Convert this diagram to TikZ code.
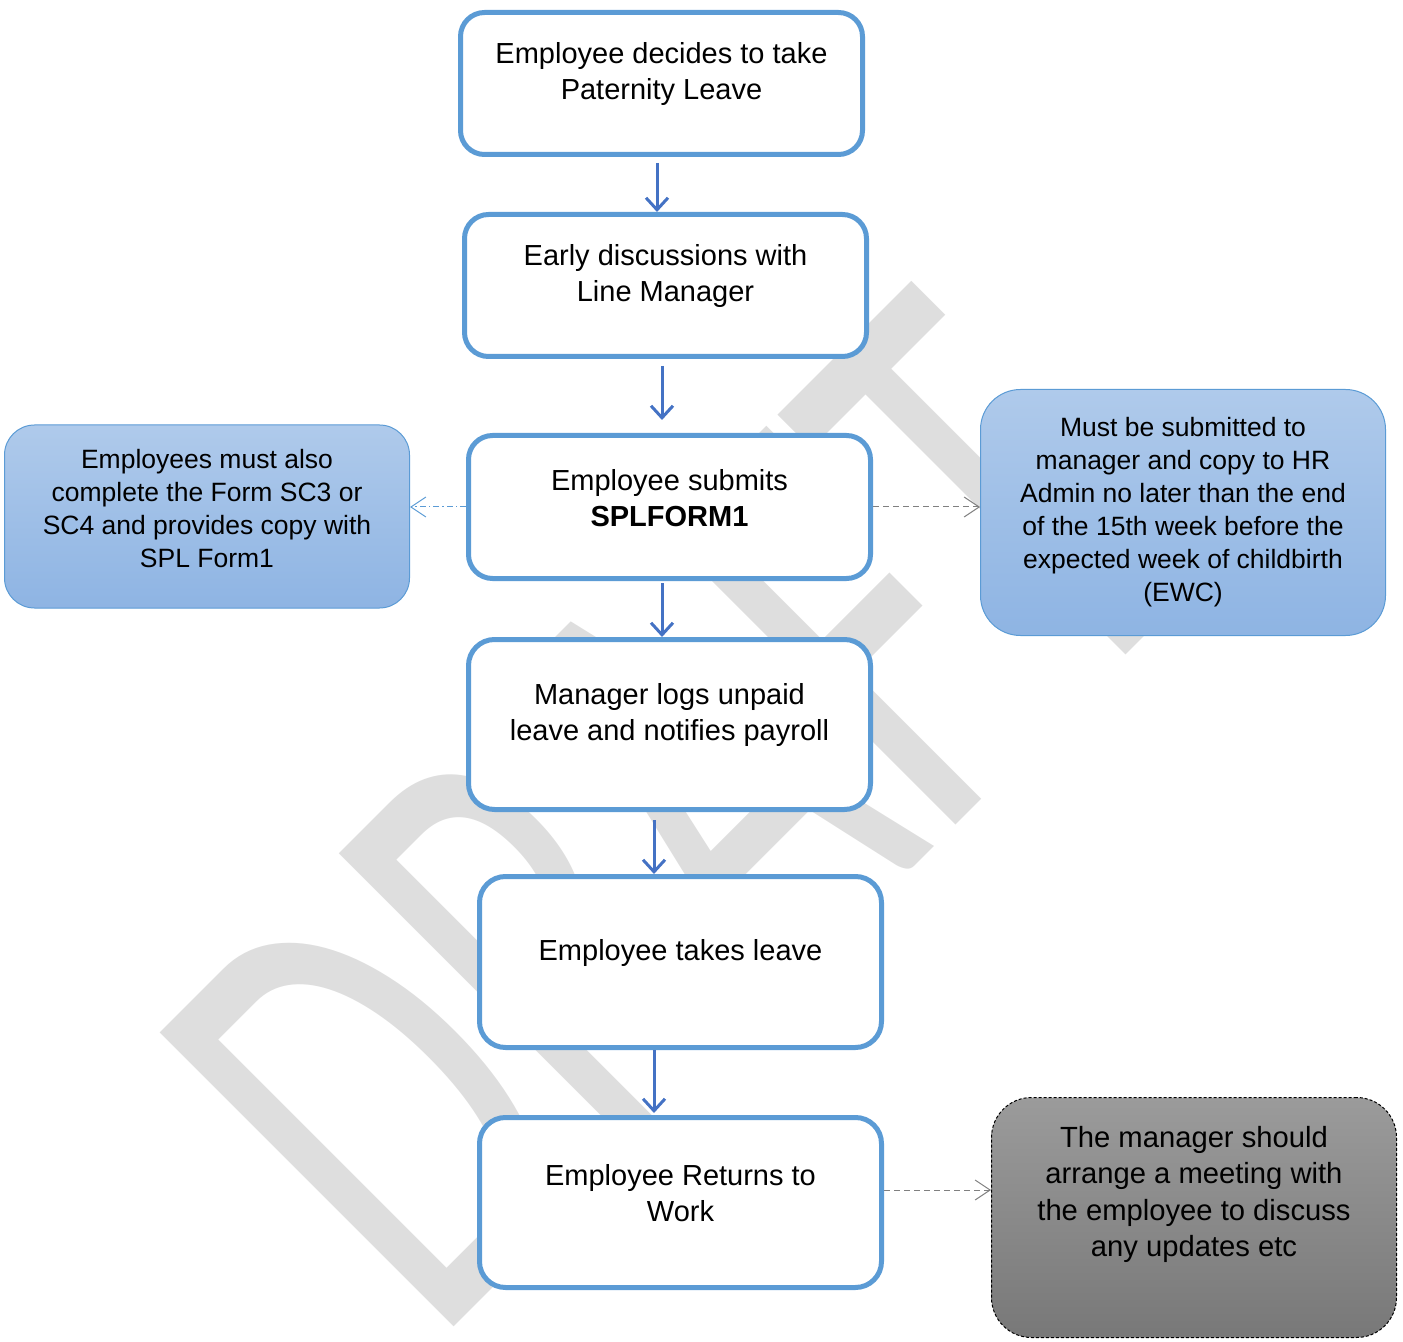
\documentclass[tikz,border=0pt]{standalone}
\usepackage{fontspec}
\setmainfont{Liberation Sans}
\newfontfamily\draftfont{Carlito}
\usetikzlibrary{positioning,arrows.meta,shapes}

\definecolor{boxblue}{HTML}{5B9BD5}
\definecolor{arrowblue}{HTML}{4472C4}
\definecolor{notetop}{HTML}{AFCAEB}
\definecolor{notebottom}{HTML}{8EB4E3}
\definecolor{meettop}{HTML}{9B9B9B}
\definecolor{meetbottom}{HTML}{787878}
\definecolor{linkgray}{HTML}{808080}
\definecolor{wmgray}{HTML}{DEDEDE}

\tikzset{
  stepbox/.style={draw=boxblue, line width=2.5pt, fill=white, rounded corners=12pt,
    minimum width=201pt, minimum height=71pt, inner sep=0pt},
  steplabel/.style={align=center, yshift=4.5pt, font=\fontsize{14.5}{18}\selectfont},
  notebox/.style={draw=boxblue, line width=0.5pt, top color=notetop, bottom color=notebottom,
    minimum width=202.5pt, inner sep=0pt},
  notelabel/.style={align=center, font=\fontsize{13.25}{16.5}\selectfont},
  meetbox/.style={draw=black, line width=0.5pt, dash pattern=on 1.5pt off 1pt,
    top color=meettop, bottom color=meetbottom, rounded corners=20pt,
    minimum width=202.5pt, minimum height=120pt, inner sep=0pt},
  meetlabel/.style={align=center, yshift=11.5pt, font=\fontsize{14.6}{18.25}\selectfont},
  flowarrow/.style={color=arrowblue, line width=1.5pt, -{Straight Barb[length=6pt,width=11pt]}},
  sidelink/.style={line width=0.5pt, -{Straight Barb[length=7.5pt,width=10pt]}}
}

\begin{document}
\begin{tikzpicture}[x=0.5pt,y=-0.5pt]
  \useasboundingbox (0,0) rectangle (1403,1342);

  % watermark
  \begin{scope}[shift={(675,812)}]
    \node[rotate=45, xscale=0.63, transform shape, inner sep=0pt, text=wmgray,
      font=\draftfont\fontsize{324}{324}\selectfont] (draft) at (0,0) {DRAFT};
  \end{scope}

  % main steps
  \node[stepbox, label={[steplabel]center:Employee decides to take\\Paternity Leave}]
    (decide) at (661.5,83.5) {};
  \node[stepbox, label={[steplabel]center:Early discussions with\\Line Manager}]
    (talk) at (665.5,285.5) {};
  \node[stepbox, minimum height=71.5pt,
    label={[steplabel]center:Employee submits\\\textbf{SPLFORM1}}]
    (submit) at (669.5,507) {};
  \node[stepbox, minimum height=85pt, rounded corners=13pt,
    label={[steplabel]center:Manager logs unpaid\\leave and notifies payroll}]
    (logs) at (669.5,724.5) {};
  \node[stepbox, minimum height=85.5pt, rounded corners=13pt,
    label={[steplabel]center:Employee takes leave}]
    (leave) at (680.5,962) {};
  \node[stepbox, minimum height=85pt, rounded corners=13pt,
    label={[steplabel]center:Employee Returns to\\Work}]
    (back) at (680.5,1202.5) {};

  % side notes
  \node[notebox, minimum height=91.5pt, rounded corners=15pt,
    label={[notelabel, yshift=4pt]center:Employees must also\\complete the Form SC3 or\\SC4 and provides copy with\\SPL Form1}]
    (formnote) at (207,516.5) {};
  \node[notebox, minimum height=123pt, rounded corners=20pt,
    label={[notelabel]center:Must be submitted to\\manager and copy to HR\\Admin no later than the end\\of the 15th week before the\\expected week of childbirth\\(EWC)}]
    (deadline) at (1183,512.5) {};
  \node[meetbox, label={[meetlabel]center:The manager should\\arrange a meeting with\\the employee to discuss\\any updates etc}]
    (meeting) at (1194,1217.5) {};

  \path[flowarrow]
    ([xshift=-2.25pt,yshift=-3pt]decide.south) edge ([xshift=-4.25pt]talk.north)
    ([xshift=-1.75pt,yshift=-3.5pt]talk.south) edge ([xshift=-3.75pt,yshift=6.5pt]submit.north)
    ([xshift=-3.75pt,yshift=-1pt]submit.south) edge ([xshift=-3.75pt]logs.north)
    ([xshift=-7.75pt,yshift=-4pt]logs.south) edge ([xshift=-13.25pt]leave.north)
    ([xshift=-13.25pt]leave.south) edge ([xshift=-13.25pt,yshift=1pt]back.north);

  \draw[sidelink, draw=boxblue, dash pattern=on 3pt off 1.5pt on 0.75pt off 1.5pt]
    (submit.west) -- (submit.west -| formnote.east);
  \draw[sidelink, draw=linkgray, dash pattern=on 3pt off 2pt]
    (submit.east) -- (submit.east -| deadline.west);
  \draw[sidelink, draw=linkgray, dash pattern=on 3pt off 2pt]
    ([yshift=6.25pt]back.east) -- ([yshift=6.25pt]back.east -| meeting.west);
\end{tikzpicture}
\end{document}
